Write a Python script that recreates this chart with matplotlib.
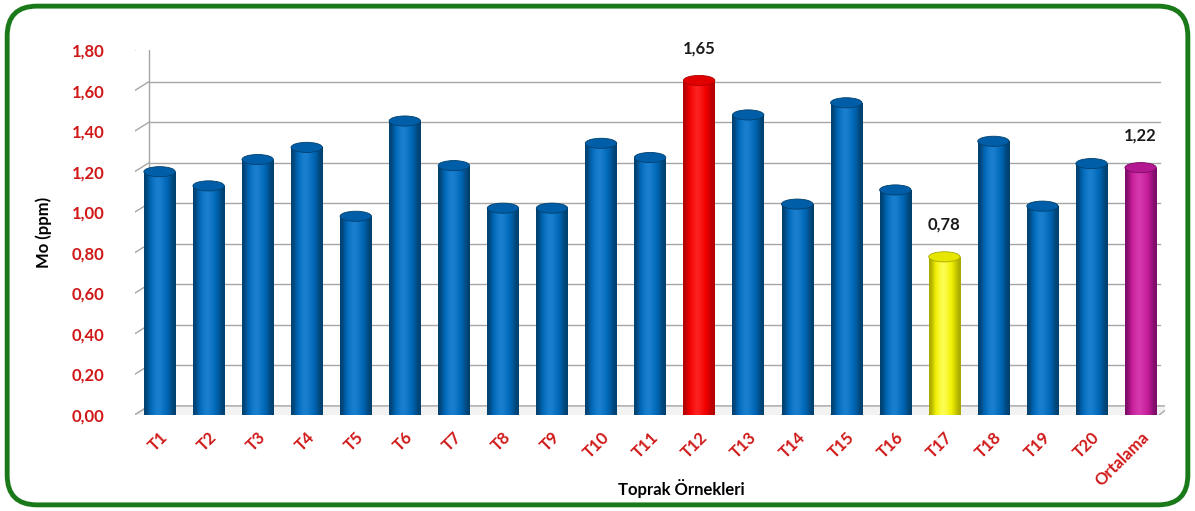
import numpy as np
import matplotlib
matplotlib.use("Agg")
import matplotlib.pyplot as plt
from matplotlib.patches import Ellipse, FancyBboxPatch, Polygon
from matplotlib import transforms

plt.rcParams['font.family'] = ['Lato', 'DejaVu Sans']

# data
samples = ['T1', 'T2', 'T3', 'T4', 'T5', 'T6', 'T7', 'T8', 'T9', 'T10',
           'T11', 'T12', 'T13', 'T14', 'T15', 'T16', 'T17', 'T18', 'T19', 'T20',
           'Ortalama']
mo_ppm = [1.20, 1.13, 1.26, 1.32, 0.98, 1.45, 1.23, 1.02, 1.02, 1.34,
          1.27, 1.65, 1.48, 1.04, 1.54, 1.11, 0.78, 1.35, 1.03, 1.24,
          1.22]
labelled = {'T12': '1,65', 'T17': '0,78', 'Ortalama': '1,22'}
yticks = [0.0, 0.2, 0.4, 0.6, 0.8, 1.0, 1.2, 1.4, 1.6, 1.8]

# (edge, body, highlight, cap)
blue = ('#00406e', '#0068b8', '#1e82d2', '#005ea8')
colors = {'T12': ('#b00000', '#f20000', '#ff2525', '#e00000'),
          'T17': ('#a8a800', '#f0f000', '#ffff60', '#e6e600'),
          'Ortalama': ('#7a0c66', '#c41c98', '#d83cb0', '#b41890')}
tick_red = '#d01818'

fig = plt.figure(figsize=(11.95, 5.11), dpi=100)
border = FancyBboxPatch((0.006, 0.012), 0.988, 0.976, boxstyle="round,pad=0,rounding_size=0.025",
                        transform=fig.transFigure, fc='none', ec='#1a7a1a', lw=3.5,
                        mutation_aspect=1195 / 511, zorder=-1)
fig.patches.append(border)

ax = fig.add_axes([0.113, 0.188, 0.862, 0.714])
for s in ax.spines.values():
    s.set_visible(False)
ax.patch.set_alpha(0)
ax.set_xlim(-0.5, len(samples) - 0.5)
ax.set_ylim(0, 1.8)

# back wall gridlines, shifted like a 3D wall
back = transforms.offset_copy(ax.transData, fig=fig, x=14, y=9, units='dots')
for t in yticks:
    ax.plot([-0.5, len(samples) - 0.9], [t, t], color='#a6a6a6', lw=1.0, transform=back, zorder=0)
    # slanted connector on left wall
    p0 = ax.transData.transform((-0.5, t))
    ax.plot([p0[0] - 10, p0[0] + 14], [p0[1] - 6, p0[1] + 9], color='#a6a6a6', lw=1.0,
            transform=None, zorder=0)
ax.plot([-0.5, -0.5], [0, 1.8], color='#a6a6a6', lw=1.0, transform=back, zorder=0)

# floor
f0 = ax.transData.transform((-0.5, 0))
f1 = ax.transData.transform((len(samples) - 0.5, 0))
floor = Polygon([(f0[0] - 10, f0[1] - 6), (f1[0] - 14, f0[1] - 6),
                 (f1[0] + 6, f0[1] + 9), (f0[0] + 14, f0[1] + 9)],
                closed=True, fc='#f2f2f2', ec='#a6a6a6', lw=1.0, transform=None, zorder=0)
ax.add_patch(floor)

w = 0.64
cap = 0.05
x = np.arange(len(samples))
bars = ax.bar(x, mo_ppm, width=w, color='none', zorder=2)
grad = np.array([[0.0, 0.45, 0.75, 1.0, 0.8, 0.55, 0.3, 0.0]])
for xi, name, val, b in zip(x, samples, mo_ppm, bars):
    edge, body, light, top = colors.get(name, blue)
    cmap = matplotlib.colors.LinearSegmentedColormap.from_list('c', [edge, body, light])
    im = ax.imshow(grad, cmap=cmap, aspect='auto', extent=(xi - w / 2, xi + w / 2, 0, val),
                   interpolation='bicubic', zorder=2)
    im.set_clip_path(b)
    ax.add_patch(Ellipse((xi, 0), w, cap, fc=edge, ec='none', zorder=1.9))
    ax.add_patch(Ellipse((xi, val), w, cap, fc=top, ec=edge, lw=0.6, zorder=3))
    if name in labelled:
        ax.text(xi, val + 0.16, labelled[name], ha='center', va='center',
                fontsize=12, fontweight='bold', color='#1a1a1a')

ax.set_xlim(-0.5, len(samples) - 0.5)
ax.set_ylim(0, 1.8)
ax.set_yticks(yticks)
ax.set_yticklabels([f"{t:.2f}".replace('.', ',') for t in yticks],
                   color=tick_red, fontsize=12, fontweight='bold')
ax.set_xticks(x)
ax.set_xticklabels(samples, rotation=45, ha='right', rotation_mode='anchor',
                   color=tick_red, fontsize=12, fontweight='bold')
ax.tick_params(axis='y', length=0, pad=22)
ax.tick_params(axis='x', length=0, pad=10)
ax.set_ylabel('Mo (ppm)', fontsize=12, fontweight='bold', labelpad=14)
ax.set_xlabel('Toprak Örnekleri', fontsize=12, fontweight='bold')
ax.xaxis.set_label_coords(0.53, -0.175)

fig.savefig('out.png', dpi=100)
